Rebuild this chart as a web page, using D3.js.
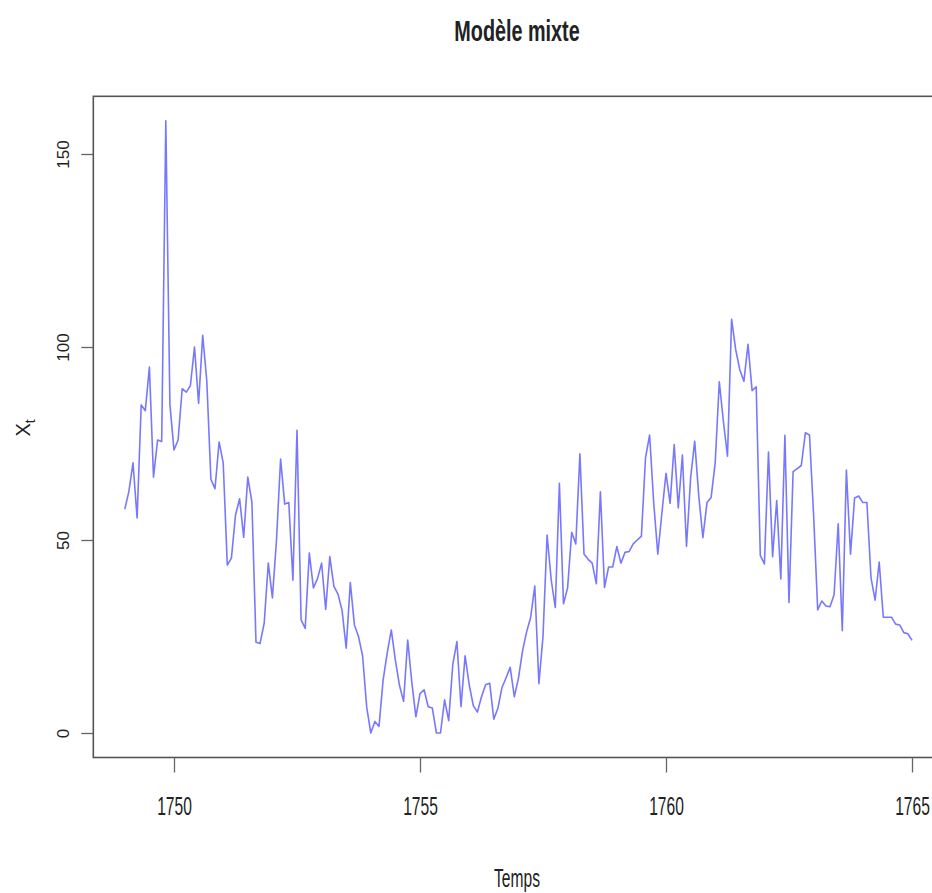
<!DOCTYPE html>
<html>
<head>
<meta charset="utf-8">
<script src="https://cdn.jsdelivr.net/npm/d3@7"></script>
<style>
body { margin: 0; background: #fff; }
text { font-family: "Liberation Sans", Arial, sans-serif; fill: #222; }
</style>
</head>
<body>
<div id="vis" style="width:932px;height:893px"></div>
<script>
// monthly values, Jan 1749 .. Jan 1765
var start_year = 1749;
var values = [
	58.0, 62.6, 70.0, 55.7, 85.0, 83.5, 94.8, 66.3, 75.9, 75.5, 158.6, 85.2, // 1749
	73.3, 75.9, 89.2, 88.3, 90.0, 100.0, 85.4, 103.0, 91.2, 65.7, 63.3, 75.4, // 1750
	70.0, 43.5, 45.3, 56.4, 60.7, 50.7, 66.3, 59.8, 23.5, 23.2, 28.5, 44.0, // 1751
	35.0, 50.0, 71.0, 59.3, 59.7, 39.6, 78.4, 29.3, 27.1, 46.6, 37.6, 40.0, // 1752
	44.0, 32.0, 45.7, 38.0, 36.0, 31.7, 22.0, 39.0, 28.0, 25.0, 20.0, 6.7, // 1753
	0.0, 3.0, 1.7, 13.7, 20.7, 26.7, 18.8, 12.3, 8.2, 24.1, 13.2, 4.2, // 1754
	10.2, 11.2, 6.8, 6.5, 0.0, 0.0, 8.6, 3.2, 17.8, 23.7, 6.8, 20.0, // 1755
	12.5, 7.1, 5.4, 9.4, 12.5, 12.9, 3.6, 6.4, 11.8, 14.3, 17.0, 9.4, // 1756
	14.1, 21.2, 26.2, 30.0, 38.1, 12.8, 25.0, 51.3, 39.7, 32.5, 64.7, 33.5, // 1757
	37.6, 52.0, 49.0, 72.3, 46.4, 45.0, 44.0, 38.7, 62.5, 37.7, 43.0, 43.0, // 1758
	48.3, 44.0, 46.8, 47.0, 49.0, 50.0, 51.0, 71.3, 77.2, 59.7, 46.3, 57.0, // 1759
	67.3, 59.5, 74.7, 58.3, 72.0, 48.3, 66.0, 75.6, 61.3, 50.6, 59.7, 61.0, // 1760
	70.0, 91.0, 80.7, 71.7, 107.2, 99.3, 94.1, 91.1, 100.7, 88.7, 89.7, 46.0, // 1761
	43.8, 72.8, 45.7, 60.2, 39.9, 77.1, 33.8, 67.7, 68.5, 69.3, 77.8, 77.2, // 1762
	56.5, 31.9, 34.2, 32.9, 32.7, 35.8, 54.2, 26.5, 68.1, 46.3, 60.9, 61.4, // 1763
	59.7, 59.7, 40.2, 34.4, 44.3, 30.0, 30.0, 30.0, 28.2, 28.0, 26.0, 25.7, // 1764
	24.0 // 1765
];
var x_ticks = [1750, 1755, 1760, 1765];
var y_ticks = [0, 50, 100, 150];
var title = 'Modèle mixte';
var x_label = 'Temps';

var width = 932, height = 893;
var svg = d3.select('#vis').append('svg').attr('width', width).attr('height', height);

var x_scale = d3.scaleLinear().domain([1750, 1765]).range([174, 912]);
var y_scale = d3.scaleLinear().domain([0, 150]).range([733, 154]);

var data = values.map(function(v, i) {
	return { t: start_year + i / 12, value: v };
});

// R-style box, 4% padding around data range
var t_ext = d3.extent(data, function(d) { return d.t; });
var v_ext = d3.extent(data, function(d) { return d.value; });
var tp = (t_ext[1] - t_ext[0]) * 0.04, vp = (v_ext[1] - v_ext[0]) * 0.04;
var bx0 = x_scale(t_ext[0] - tp), bx1 = x_scale(t_ext[1] + tp);
var by0 = y_scale(v_ext[1] + vp), by1 = y_scale(v_ext[0] - vp);

var line = d3.line().x(function(d) { return x_scale(d.t); }).y(function(d) { return y_scale(d.value); });
svg.append('path').datum(data).attr('d', line)
	.attr('fill', 'none').attr('stroke', '#7878ff').attr('stroke-width', 1.6).attr('stroke-linejoin', 'round');

svg.append('rect').attr('x', bx0).attr('y', by0).attr('width', bx1 - bx0).attr('height', by1 - by0)
	.attr('fill', 'none').attr('stroke', '#555').attr('stroke-width', 1.6);

var x_axis = d3.axisBottom(x_scale).tickValues(x_ticks).tickSize(15).tickSizeOuter(0).tickFormat(d3.format('d'));
var gx = svg.append('g').attr('transform', 'translate(0,' + by1 + ')').call(x_axis);
gx.select('.domain').remove();
gx.selectAll('.tick line').attr('stroke', '#666').attr('stroke-width', 1.3);
gx.selectAll('.tick text').attr('y', 0).attr('dy', 0).attr('font-size', 26).attr('fill', '#333')
	.attr('transform', 'translate(0,58) scale(0.6,1)');

var y_axis = d3.axisLeft(y_scale).tickValues(y_ticks).tickSize(12).tickSizeOuter(0);
var gy = svg.append('g').attr('transform', 'translate(' + bx0 + ',0)').call(y_axis);
gy.select('.domain').remove();
gy.selectAll('.tick line').attr('stroke', '#666').attr('stroke-width', 1.3);
gy.selectAll('.tick text').attr('x', 0).attr('dy', 0).attr('font-size', 17).attr('fill', '#444')
	.attr('text-anchor', 'middle').attr('transform', 'translate(-24,0) rotate(-90)');

svg.append('text').attr('transform', 'translate(517,41) scale(0.66,1)').attr('text-anchor', 'middle')
	.attr('font-size', 30).attr('font-weight', 'bold').text(title);

svg.append('text').attr('transform', 'translate(517,887) scale(0.6,1)').attr('text-anchor', 'middle')
	.attr('font-size', 26).attr('fill', '#333').text(x_label);

var yl = svg.append('text').attr('transform', 'translate(30,428) rotate(-90)').attr('text-anchor', 'middle')
	.attr('font-size', 20).attr('fill', '#333');
yl.append('tspan').text('X');
yl.append('tspan').attr('font-size', 14).attr('dy', 5).text('t');
</script>
</body>
</html>
